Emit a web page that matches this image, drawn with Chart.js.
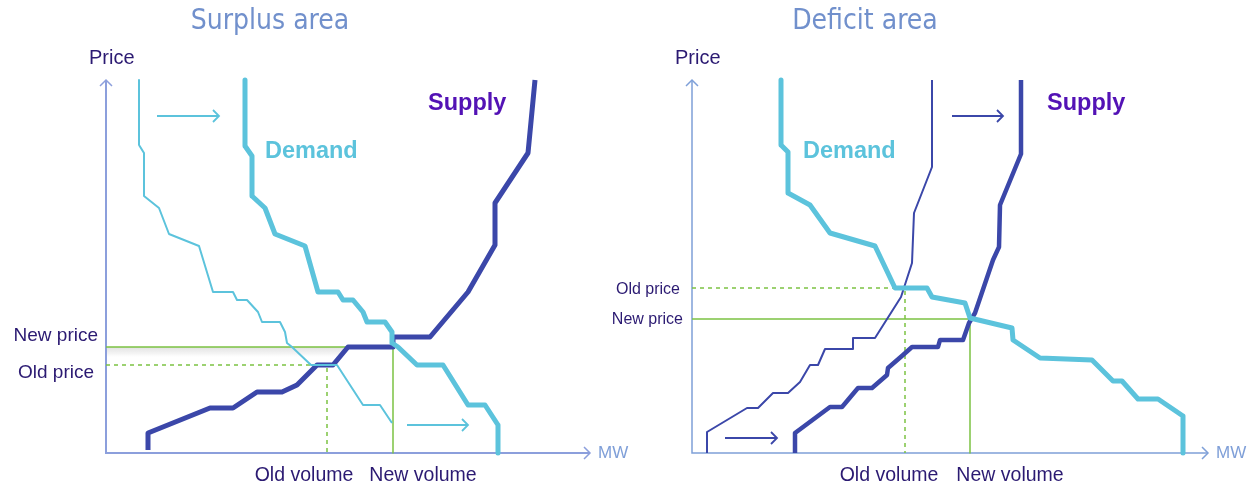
<!DOCTYPE html>
<html>
<head>
<meta charset="utf-8">
<script src="https://cdn.jsdelivr.net/npm/chart.js@4/dist/chart.umd.min.js"></script>
<style>
body { margin: 0; background: #fff; width: 1250px; height: 488px; overflow: hidden; }
.box { position: absolute; top: 0; height: 488px; }
</style>
</head>
<body>
<div class="box" style="left:0;width:640px"><canvas id="surplus"></canvas></div>
<div class="box" style="left:595px;width:655px"><canvas id="deficit"></canvas></div>
<script>
// surplus area: [MW, price] points
var surplusOldDemand = [[33,373],[33,308],[38,300],[38,257],[53,245],[63,219],[93,207],[107,161],[127,161],[131,153],[141,153],[152,141],[156,131],[174,131],[179,121],[181,110],[186,106],[205,88],[231,88],[257,48],[274,48],[286,30]];
var surplusNewDemand = [[139,373],[139,307],[146,297],[146,257],[159,245],[169,219],[199,207],[212,161],[232,161],[237,153],[247,153],[257,141],[261,131],[279,131],[286,121],[286,110],[292,106],[311,88],[337,88],[362,48],[379,48],[392,28],[392,0]];
var surplusSupply = [[42,3],[42,20],[104,45],[127,45],[151,61],[176,61],[191,68],[211,88],[227,88],[242,106],[287,106],[287,116],[324,116],[362,161],[389,208],[389,250],[422,300],[429,373]];
var surplusOld = {price: 88, volume: 221};
var surplusNew = {price: 106, volume: 287};
var surplusShift = [[[51,337],[113,337]], [[301,28],[362,28]]];

// deficit area
var deficitDemand = [[89,373],[89,308],[96,301],[96,260],[118,248],[138,220],[183,207],[203,165],[235,165],[240,156],[273,150],[278,135],[320,125],[321,113],[348,95],[400,93],[421,72],[430,72],[446,54],[466,54],[491,37],[491,0]];
var deficitOldSupply = [[15,0],[15,21],[55,45],[66,45],[81,60],[96,60],[108,71],[118,88],[126,88],[133,104],[161,104],[161,115],[183,115],[209,156],[220,190],[222,240],[240,286],[240,373]];
var deficitNewSupply = [[103,0],[103,20],[138,46],[150,46],[166,65],[180,65],[195,78],[196,85],[211,98],[220,106],[246,106],[248,113],[271,113],[277,130],[283,140],[301,193],[307,206],[308,248],[329,299],[329,373]];
var deficitOld = {price: 165, volume: 213};
var deficitNew = {price: 134, volume: 278};
var deficitShift = [[[260,337],[311,337]], [[33,15],[85,15]]];

var CYAN = '#5cc3dc';
var NAVY = '#3b47a9';
var GREEN = '#7cc243';
var TXT = '#2b1a72';

function pts(arr) {
    return arr.map(function(p) { return {x: p[0], y: p[1]}; });
}

function curve(arr, color, width) {
    return {data: pts(arr), borderColor: color, borderWidth: width, order: 1};
}

function refLine(lvl, dashed) {
    return {
        data: [{x: 0, y: lvl.price}, {x: lvl.volume, y: lvl.price}, {x: lvl.volume, y: 0}],
        borderColor: GREEN, borderWidth: 1.5, borderDash: dashed ? [4, 4] : [], order: 10
    };
}

function arrowHead(ctx, x, y, dx, dy, s) {
    ctx.beginPath();
    ctx.moveTo(x - dx * s - dy * s, y - dy * s - dx * s);
    ctx.lineTo(x, y);
    ctx.lineTo(x - dx * s + dy * s, y - dy * s + dx * s);
    ctx.stroke();
}

function text(ctx, str, x, y, font, color, align) {
    ctx.font = font;
    ctx.fillStyle = color;
    ctx.textAlign = align || 'left';
    ctx.textBaseline = 'middle';
    ctx.fillText(str, x, y);
}

var decor = {
    id: 'decor',
    beforeDatasetsDraw: function(chart) {
        var c = chart.ctx, a = chart.chartArea, o = chart.options.decor;
        var xs = chart.scales.x, ys = chart.scales.y;
        c.save();
        if (o.shadow) {
            // soft grey band under the new price line (as in the source picture)
            var py = ys.getPixelForValue(o.new.price);
            var g = c.createLinearGradient(0, py, 0, py + 10);
            g.addColorStop(0, 'rgba(120,120,120,0.22)');
            g.addColorStop(1, 'rgba(120,120,120,0)');
            c.fillStyle = g;
            c.fillRect(a.left, py, xs.getPixelForValue(o.new.volume) - 50 - a.left, 10);
        }
        c.strokeStyle = o.axis;
        c.lineWidth = o.axisWidth;
        c.beginPath();
        c.moveTo(a.left, a.top);
        c.lineTo(a.left, a.bottom);
        c.lineTo(a.right, a.bottom);
        c.stroke();
        c.lineWidth = 1.5;
        arrowHead(c, a.left, a.top, 0, -1, 6);
        arrowHead(c, a.right, a.bottom, 1, 0, 6);
        c.restore();
    },
    afterDraw: function(chart) {
        var c = chart.ctx, a = chart.chartArea, o = chart.options.decor;
        var xs = chart.scales.x, ys = chart.scales.y;
        c.save();
        // shift arrows
        c.strokeStyle = o.shiftColor;
        c.lineWidth = 1.8;
        o.shifts.forEach(function(s) {
            var x1 = xs.getPixelForValue(s[0][0]), y1 = ys.getPixelForValue(s[0][1]);
            var x2 = xs.getPixelForValue(s[1][0]), y2 = ys.getPixelForValue(s[1][1]);
            c.beginPath();
            c.moveTo(x1, y1);
            c.lineTo(x2, y2);
            c.stroke();
            arrowHead(c, x2, y2, 1, 0, 6);
        });
        text(c, o.title, o.titleX, 22, '28px "DejaVu Sans Condensed", "DejaVu Sans"', '#7190cc', 'center');
        text(c, 'Price', a.left - 17, 58, '20px "Liberation Sans", Arial', TXT);
        text(c, 'MW', a.right + 8, a.bottom, '17px "Liberation Sans", Arial', '#7f9fd8');
        text(c, 'Supply', o.supplyX, 104, 'bold 23.5px "Liberation Sans", Arial', '#5312b5');
        text(c, 'Demand', o.demandX, 152, 'bold 23.5px "Liberation Sans", Arial', CYAN);
        var lf = o.labelSize + 'px "Liberation Sans", Arial';
        text(c, 'Old price', o.oldPriceX, ys.getPixelForValue(o.old.price) + o.oldPriceDy, lf, TXT, 'right');
        text(c, 'New price', o.newPriceX, ys.getPixelForValue(o.new.price) + o.newPriceDy, lf, TXT, 'right');
        var vf = '19.5px "Liberation Sans", Arial';
        text(c, 'Old volume', xs.getPixelForValue(o.old.volume) + o.oldVolDx, 476, vf, TXT, 'center');
        text(c, 'New volume', xs.getPixelForValue(o.new.volume) + o.newVolDx, 476, vf, TXT, 'center');
        c.restore();
    }
};

function makeChart(id, datasets, pad, xMax, decorOpts) {
    return new Chart(document.getElementById(id), {
        type: 'scatter',
        data: {datasets: datasets},
        options: {
            responsive: true,
            maintainAspectRatio: false,
            animation: false,
            showLine: true,
            layout: {padding: pad},
            elements: {
                point: {radius: 0, hoverRadius: 0},
                line: {tension: 0, borderJoinStyle: 'round', fill: false}
            },
            datasets: {scatter: {clip: false}},
            scales: {
                x: {type: 'linear', min: 0, max: xMax, display: false},
                y: {type: 'linear', min: 0, max: 373, display: false}
            },
            plugins: {legend: {display: false}, tooltip: {enabled: false}},
            decor: decorOpts
        },
        plugins: [decor]
    });
}

makeChart('surplus', [
    curve(surplusOldDemand, CYAN, 2),
    curve(surplusNewDemand, CYAN, 5),
    curve(surplusSupply, NAVY, 5),
    refLine(surplusNew, false),
    refLine(surplusOld, true)
], {left: 106, right: 50, top: 80, bottom: 35}, 484, {
    title: 'Surplus area', titleX: 270,
    axis: '#8c9fdc', axisWidth: 2, shadow: true,
    shiftColor: CYAN, shifts: surplusShift,
    supplyX: 428, demandX: 265,
    old: surplusOld, new: surplusNew, labelSize: 19,
    oldPriceX: 94, oldPriceDy: 8, newPriceX: 98, newPriceDy: -11,
    oldVolDx: -23, newVolDx: 30
});

makeChart('deficit', [
    curve(deficitDemand, CYAN, 5),
    curve(deficitOldSupply, NAVY, 2),
    curve(deficitNewSupply, NAVY, 4.5),
    refLine(deficitNew, false),
    refLine(deficitOld, true)
], {left: 97, right: 42, top: 80, bottom: 35}, 516, {
    title: 'Deficit area', titleX: 270,
    axis: '#7fa0d8', axisWidth: 1.5, shadow: false,
    shiftColor: NAVY, shifts: deficitShift,
    supplyX: 452, demandX: 208,
    old: deficitOld, new: deficitNew, labelSize: 16,
    oldPriceX: 85, oldPriceDy: 2, newPriceX: 88, newPriceDy: 1,
    oldVolDx: -16, newVolDx: 40
});
</script>
</body>
</html>
